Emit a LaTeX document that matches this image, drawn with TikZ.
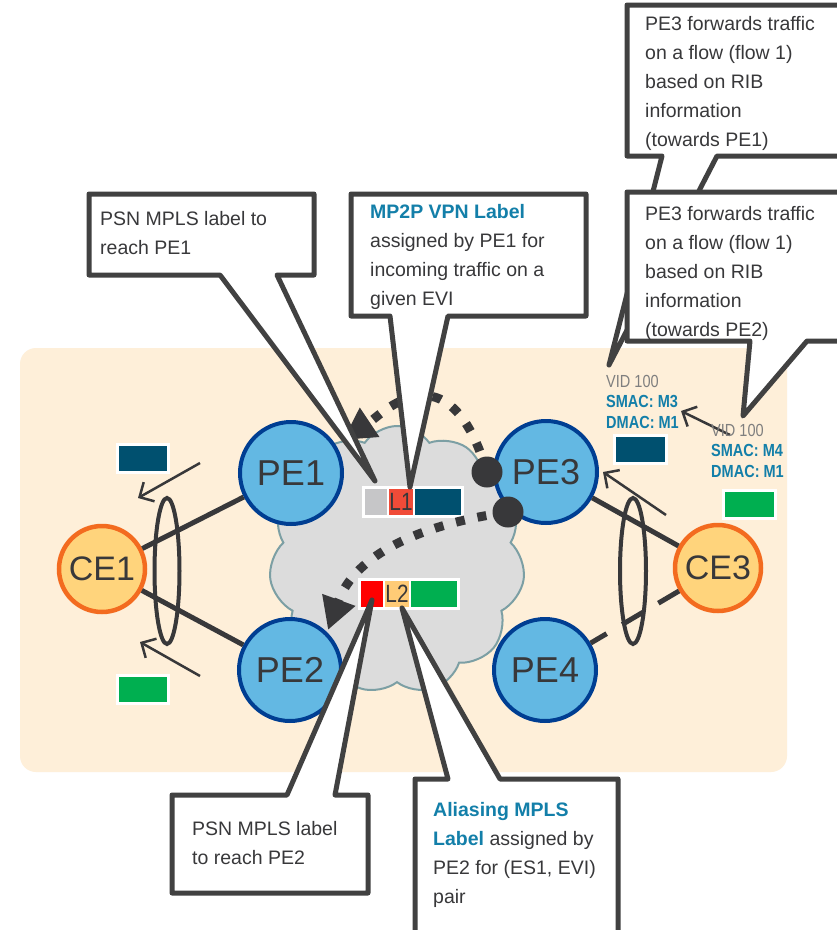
\documentclass[tikz,border=0pt]{standalone}
\usepackage{fontspec}
\setmainfont{Liberation Sans}
\newfontfamily\narrowf[FakeStretch=0.83]{Liberation Sans}
\usetikzlibrary{shapes.symbols,arrows.meta}

\definecolor{peach}{HTML}{FEEFD9}
\definecolor{cloudgray}{HTML}{DCDCDC}
\definecolor{cloudedge}{HTML}{7C9FA4}
\definecolor{pefill}{HTML}{63B8E3}
\definecolor{peedge}{HTML}{003E92}
\definecolor{cefill}{HTML}{FFD47C}
\definecolor{ceedge}{HTML}{F36B1F}
\definecolor{ink}{HTML}{38383A}
\definecolor{boxedge}{HTML}{414141}
\definecolor{tealtxt}{HTML}{137FA9}
\definecolor{vidgray}{HTML}{7F7F7F}
\definecolor{navy}{HTML}{00506F}
\definecolor{lgreen}{HTML}{00AF50}
\definecolor{lred}{HTML}{F04B38}
\definecolor{pured}{HTML}{FF0000}
\definecolor{lgray}{HTML}{C6C6C8}
\definecolor{lorange}{HTML}{FFCB76}

\tikzset{
  pe/.style={circle, draw=peedge, fill=pefill, line width=4pt, minimum size=102pt,
    inner sep=0pt, text=ink, font=\fontsize{36}{40}\selectfont},
  ce/.style={circle, draw=ceedge, fill=cefill, line width=4.5pt, minimum size=86pt,
    inner sep=0pt, text=ink, font=\fontsize{34}{40}\selectfont},
  link/.style={draw=ink, line width=5pt},
  lag/.style={draw=ink, line width=4pt},
  flowarrow/.style={draw=ink, line width=2.5pt, -{Straight Barb[length=11pt,width=22pt]}},
  pathflow/.style={draw=ink, line width=9pt, dash pattern=on 9pt off 13pt,
    -{Triangle[length=32pt,width=33pt]}},
  flowdot/.style={circle, fill=ink, minimum size=31pt, inner sep=0pt},
  callout/.style={draw=boxedge, fill=white, line width=5pt, line join=round},
  calltext/.style={anchor=north west, inner sep=0pt, align=left, text=ink,
    font=\fontsize{19.5}{29}\selectfont},
  mactext/.style={anchor=north west, inner sep=0pt, align=left,
    font=\narrowf\fontsize{17.5}{20.5}\selectfont},
  tag/.style={draw=white, line width=3pt, minimum width=#1, minimum height=28pt,
    inner sep=0pt},
  seg/.style={minimum width=#1, minimum height=26pt, inner sep=0pt, text=ink,
    font=\narrowf\fontsize{25}{26}\selectfont},
}

\begin{document}
\begin{tikzpicture}[x=1pt,y=-1pt]
\clip (0,0) rectangle (837,930);
\fill[white] (0,0) rectangle (837,930);

% provider area
\fill[peach, rounded corners=16pt] (20,348) rectangle (787,772);

% MPLS core
\node[cloud, cloud puffs=11, cloud puff arc=110, draw=cloudedge, fill=cloudgray,
  line width=2pt, minimum width=256pt, minimum height=268pt, inner sep=0pt]
  (core) at (397,560) {};

% sites and provider edges
\node[pe] (pe1) at (291,473) {PE1};
\node[pe] (pe2) at (290,670) {PE2};
\node[pe] (pe3) at (546,472) {PE3};
\node[pe] (pe4) at (545,670) {PE4};
\node[ce] (ce1) at (102,569) {CE1};
\node[ce] (ce3) at (718,568) {CE3};

% access links
\draw[link] (ce1) -- (pe1);
\draw[link] (ce1) -- (pe2);
\draw[link] (ce3) -- (pe3);
\draw[link, dash pattern=on 24pt off 18pt] (ce3) -- (pe4);

% ethernet segments
\draw[lag] (167,571) ellipse [x radius=12.5pt, y radius=73pt];
\draw[lag] (633,571) ellipse [x radius=13pt, y radius=73pt];

% traffic direction arrows
\coordinate (a1s) at (200,463); \coordinate (a1e) at (138,498);
\coordinate (a2s) at (200,676); \coordinate (a2e) at (140,642);
\coordinate (a3s) at (666,515); \coordinate (a3e) at (603,472);
\coordinate (a4s) at (730,435); \coordinate (a4e) at (681,411);
\draw[flowarrow] (a1s) -- (a1e);
\draw[flowarrow] (a2s) -- (a2e);
\draw[flowarrow] (a3s) -- (a3e);
\draw[flowarrow] (a4s) -- (a4e);

% payload tags
\node[tag=51pt, fill=navy]  (t1) at (142.5,458.5) {};
\node[tag=51pt, fill=lgreen] (t2) at (142.5,689) {};
\node[tag=52pt, fill=navy]  (t3) at (640.5,449) {};
\node[tag=52pt, fill=lgreen] (t4) at (749,504) {};

% MAC headers
\node[mactext] (mac3) at (606,375)
  {\textcolor{vidgray}{VID 100}\\
   \textcolor{tealtxt}{\bfseries SMAC: M3}\\
   \textcolor{tealtxt}{\bfseries DMAC: M1}};
\node[mactext] (mac4) at (711,424)
  {\textcolor{vidgray}{VID 100}\\
   \textcolor{tealtxt}{\bfseries SMAC: M4}\\
   \textcolor{tealtxt}{\bfseries DMAC: M1}};

% label stacks
\fill[white] (362,486) rectangle (464,518);
\node[seg=22pt, fill=lgray] (s1a) at (376,502) {};
\node[seg=22pt, fill=lred]  (s1b) at (401,502) {L1};
\node[seg=46pt, fill=navy]  (s1c) at (438,502) {};
\fill[white] (358,578) rectangle (460,610);
\node[seg=22pt, fill=pured]   (s2a) at (372,594) {};
\node[seg=22pt, fill=lorange] (s2b) at (397,594) {L2};
\node[seg=46pt, fill=lgreen]  (s2c) at (434,594) {};

% forwarding paths from PE3
\node[flowdot] (d1) at (487,472) {};
\node[flowdot] (d2) at (508,512) {};
\coordinate (f1) at (343,440);
\coordinate (f2) at (328,630);
\draw[pathflow] (d1.center) .. controls (448,343) and (382,414) .. (f1);
\draw[pathflow] (d2.center) .. controls (418,525) and (355,555) .. (f2);

% callouts
\coordinate (p1) at (375,481);
\draw[callout] (89,194) -- (314,194) -- (314,275) -- (277,275) -- (p1)
  -- (220,275) -- (89,275) -- cycle;
\node[calltext] (c1) at (100,211) {PSN MPLS label to\\reach PE1};

\coordinate (p2) at (410,487);
\draw[callout] (351,194) -- (586,194) -- (586,316) -- (448,316) -- (p2)
  -- (390,316) -- (351,316) -- cycle;
\node[calltext] (c2) at (370,204)
  {\textcolor{tealtxt}{\bfseries MP2P VPN Label}\\assigned by PE1 for\\
   incoming traffic on a\\given EVI};

\coordinate (p3) at (609,365);
\draw[callout] (627,5) -- (850,5) -- (850,156) -- (717,156) -- (p3)
  -- (662,156) -- (627,156) -- cycle;
\node[calltext] (c3) at (645,16)
  {PE3 forwards traffic\\on a flow (flow 1)\\based on RIB\\information\\(towards PE1)};

\coordinate (p4) at (743,416);
\draw[callout] (627,192) -- (850,192) -- (850,341) -- (807,341) -- (p4)
  -- (750,341) -- (627,341) -- cycle;
\node[calltext] (c4) at (645,206)
  {PE3 forwards traffic\\on a flow (flow 1)\\based on RIB\\information\\(towards PE2)};

\coordinate (p5) at (372,600);
\draw[callout] (172,795) -- (287,795) -- (p5) -- (335,795) -- (368,795)
  -- (368,893) -- (172,893) -- cycle;
\node[calltext] (c5) at (192,821) {PSN MPLS label\\to reach PE2};

\coordinate (p6) at (402,608);
\draw[callout] (415,779) -- (448,779) -- (p6) -- (500,779) -- (618,779)
  -- (618,945) -- (415,945) -- cycle;
\node[calltext] (c6) at (433,802)
  {\textcolor{tealtxt}{\bfseries Aliasing MPLS}\\
   \textcolor{tealtxt}{\bfseries Label} assigned by\\PE2 for (ES1, EVI)\\pair};
\end{tikzpicture}
\end{document}
